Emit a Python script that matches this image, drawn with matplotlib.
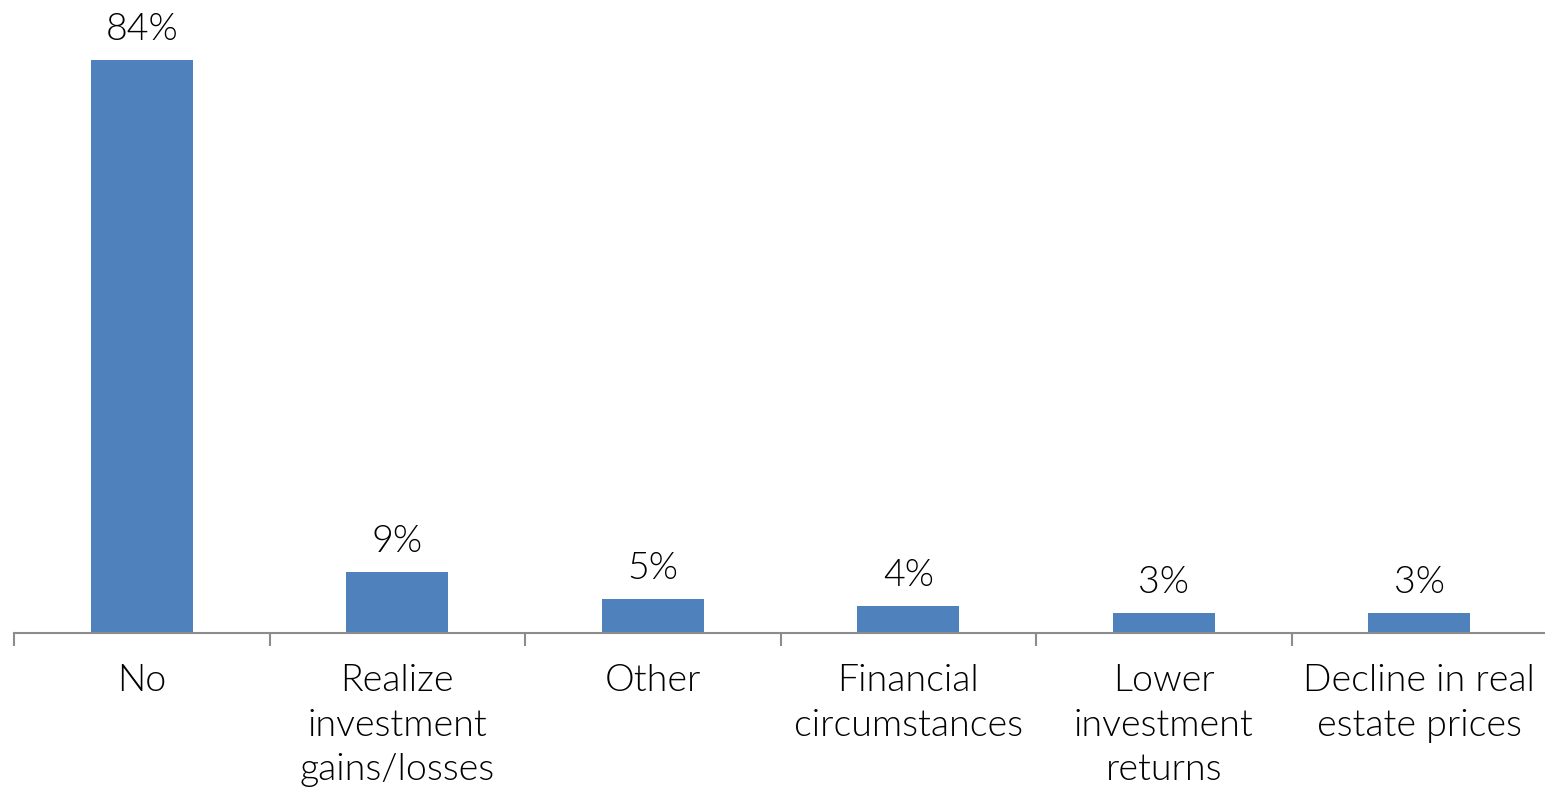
import matplotlib
matplotlib.use("Agg")
import matplotlib.pyplot as plt

categories = ["No", "Realize\ninvestment\ngains/losses", "Other", "Financial\ncircumstances",
              "Lower\ninvestment\nreturns", "Decline in real\nestate prices"]
values = [84, 9, 5, 4, 3, 3]
value_labels = ["84%", "9%", "5%", "4%", "3%", "3%"]

plt.rcParams["font.family"] = ["Lato", "DejaVu Sans"]
TEXT_WEIGHT = 300

fig = plt.figure(figsize=(15.45, 7.89), dpi=100)
ax = fig.add_axes([14 / 1545, (789 - 633) / 789, 1533 / 1545, 573 / 789])

x = list(range(len(categories)))
bars = ax.bar(x, values, width=0.4, color="#4F81BD", zorder=2)

for xi, v, lab in zip(x, values, value_labels):
    ax.annotate(lab, (xi, v), xytext=(0, 9), textcoords="offset points",
                ha="center", va="bottom", fontsize=27, fontweight=TEXT_WEIGHT,
                color="#000000", annotation_clip=False)

ax.set_xlim(-0.5, len(categories) - 0.5)
ax.set_ylim(0, 84)

for side in ("top", "right", "left"):
    ax.spines[side].set_visible(False)
ax.spines["bottom"].set_color("#8C8C8C")
ax.spines["bottom"].set_linewidth(1.5)
ax.set_yticks([])

# boundary ticks between categories, labels at centers
ax.set_xticks([i - 0.5 for i in range(len(categories) + 1)])
ax.set_xticklabels([])
ax.tick_params(axis="x", which="major", direction="out", length=9, width=1.5, color="#8C8C8C")
ax.set_xticks(x, minor=True)
ax.set_xticklabels(categories, minor=True, fontsize=27, fontweight=TEXT_WEIGHT, linespacing=1.38)
ax.tick_params(axis="x", which="minor", length=0, pad=22.5)

fig.savefig("out.png", dpi=100)
